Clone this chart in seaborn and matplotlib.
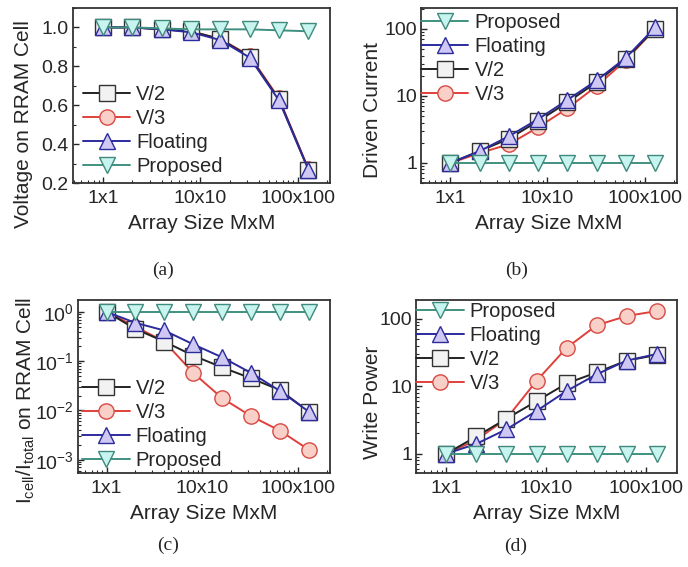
import numpy as np
import pandas as pd
import seaborn as sns
import matplotlib
matplotlib.use("Agg")
import matplotlib.pyplot as plt
from matplotlib.ticker import FixedLocator, FixedFormatter, LogLocator, NullFormatter, MultipleLocator

# ---------------- data ----------------
M = [1, 2, 4, 8, 16, 32, 64, 128]
xtick_vals = [1, 10, 100]
xtick_labels = ["1x1", "10x10", "100x100"]

# (a) Voltage on RRAM cell
a_v2 = [1.0, 1.0, 0.99, 0.98, 0.94, 0.85, 0.63, 0.27]
a_v3 = [1.0, 1.0, 0.99, 0.98, 0.94, 0.855, 0.635, 0.275]
a_fl = [1.0, 1.0, 0.99, 0.975, 0.935, 0.845, 0.625, 0.27]
a_pr = [1.0, 1.0, 0.995, 0.99, 0.99, 0.99, 0.985, 0.98]

# (b) Driven current
b_v2 = [1.0, 1.5, 2.3, 4.2, 8.0, 16.0, 36.0, 100.0]
b_v3 = [1.0, 1.4, 1.9, 3.4, 6.5, 14.0, 34.0, 100.0]
b_fl = [1.0, 1.5, 2.5, 4.5, 8.7, 17.0, 37.0, 105.0]
b_pr = [1.0, 1.0, 1.0, 1.0, 1.0, 1.0, 1.0, 1.0]

# (c) Icell/Itotal
c_v2 = [1.0, 0.45, 0.25, 0.13, 0.075, 0.045, 0.026, 0.0095]
c_v3 = [1.0, 0.5, 0.25, 0.058, 0.0178, 0.0077, 0.0039, 0.0016]
c_fl = [1.0, 0.6, 0.42, 0.22, 0.12, 0.058, 0.025, 0.0095]
c_pr = [1.0, 1.0, 1.0, 1.0, 1.0, 1.0, 1.0, 1.0]

# (d) Write power
d_v2 = [1.0, 1.8, 3.3, 6.0, 11.0, 16.0, 24.0, 29.0]
d_v3 = [1.0, 1.6, 3.3, 12.0, 37.0, 80.0, 110.0, 130.0]
d_fl = [1.0, 1.4, 2.3, 4.3, 8.5, 15.0, 24.0, 30.0]
d_pr = [1.0, 1.0, 1.0, 1.0, 1.0, 1.0, 1.0, 1.0]

labels = ["V/2", "V/3", "Floating", "Proposed"]
ylabels = ["Voltage on RRAM Cell", "Driven Current",
           r"$\mathregular{I_{cell}/I_{total}}$ on RRAM Cell", "Write Power"]
captions = ["(a)", "(b)", "(c)", "(d)"]

# ---------------- style ----------------
sns.set_style("ticks")
plt.rcParams["font.family"] = ["Liberation Sans", "DejaVu Sans"]
plt.rcParams["mathtext.fontset"] = "custom"
plt.rcParams["mathtext.rm"] = "Liberation Sans"
plt.rcParams["mathtext.it"] = "Liberation Sans"

styles = {
    "V/2": dict(color="#222222", marker="s", mfc="#f2f2f2", mec="#333333"),
    "V/3": dict(color="#e0403a", marker="o", mfc="#f8d0c8", mec="#d84a44"),
    "Floating": dict(color="#2b2b9c", marker="^", mfc="#d0c8f4", mec="#2b2b9c"),
    "Proposed": dict(color="#3f9080", marker="v", mfc="#c8f4f0", mec="#3f8a7c"),
}

fig = plt.figure(figsize=(6.88, 5.67), dpi=100)
pos = [
    [0.106, 0.677, 0.374, 0.309],
    [0.612, 0.677, 0.372, 0.309],
    [0.113, 0.166, 0.367, 0.305],
    [0.605, 0.166, 0.379, 0.305],
]
cap_xy = [(163 / 688, 1 - 270 / 567), (517 / 688, 1 - 270 / 567),
          (168 / 688, 1 - 545 / 567), (516 / 688, 1 - 546 / 567)]
ylab_xy = [(-0.156, 0.337), (-0.152, 0.417), (-0.163, 0.416), (-0.13, 0.41)]

panels = [
    dict(data={"V/2": a_v2, "V/3": a_v3, "Floating": a_fl, "Proposed": a_pr},
         ylog=False, ylim=(0.2, 1.1), xlim=(0.49, 215),
         legend=["V/2", "V/3", "Floating", "Proposed"], loc="lower left",
         anchor=(-0.008, -0.03)),
    dict(data={"V/2": b_v2, "V/3": b_v3, "Floating": b_fl, "Proposed": b_pr},
         ylog=True, ylim=(0.5, 205), xlim=(0.5, 215),
         legend=["Proposed", "Floating", "V/2", "V/3"], loc="upper left",
         anchor=(-0.047, 1.04)),
    dict(data={"V/2": c_v2, "V/3": c_v3, "Floating": c_fl, "Proposed": c_pr},
         ylog=True, ylim=(5.4e-4, 1.75), xlim=(0.5, 215),
         legend=["V/2", "V/3", "Floating", "Proposed"], loc="lower left",
         anchor=(-0.03, -0.052)),
    dict(data={"V/2": d_v2, "V/3": d_v3, "Floating": d_fl, "Proposed": d_pr},
         ylog=True, ylim=(0.52, 190), xlim=(0.5, 204),
         legend=["Proposed", "Floating", "V/2", "V/3"], loc="upper left",
         anchor=(-0.046, 1.058)),
]

fs_tick = 14
fs_lab = 15
fs_leg = 14.5
for i, (p, rect) in enumerate(zip(panels, pos)):
    ax = fig.add_axes(rect)
    for name in ["V/3", "V/2", "Floating", "Proposed"]:
        st = styles[name]
        df = pd.DataFrame({"M": M, "v": p["data"][name]})
        sns.lineplot(data=df, x="M", y="v", ax=ax, color=st["color"],
                     marker=st["marker"], markersize=11, markerfacecolor=st["mfc"],
                     markeredgecolor=st["mec"], markeredgewidth=1.0, linewidth=1.4,
                     label=name)
    ax.set_xscale("log")
    if p["ylog"]:
        ax.set_yscale("log")
    ax.set_xlim(*p["xlim"])
    ax.set_ylim(*p["ylim"])
    ax.xaxis.set_major_locator(FixedLocator(xtick_vals))
    ax.xaxis.set_major_formatter(FixedFormatter(xtick_labels))
    ax.xaxis.set_minor_locator(LogLocator(base=10, subs=np.arange(2, 10)))
    ax.xaxis.set_minor_formatter(NullFormatter())
    if i == 0:
        ax.yaxis.set_major_locator(FixedLocator([0.2, 0.4, 0.6, 0.8, 1.0]))
        ax.yaxis.set_major_formatter(FixedFormatter(["0.2", "0.4", "0.6", "0.8", "1.0"]))
        ax.yaxis.set_minor_locator(MultipleLocator(0.1))
    elif i == 2:
        ax.yaxis.set_major_locator(FixedLocator([1e-3, 1e-2, 1e-1, 1]))
        ax.yaxis.set_major_formatter(FixedFormatter(
            [r"$\mathregular{10^{-3}}$", r"$\mathregular{10^{-2}}$",
             r"$\mathregular{10^{-1}}$", r"$\mathregular{10^{0}}$"]))
        ax.yaxis.set_minor_locator(LogLocator(base=10, subs=np.arange(2, 10)))
        ax.yaxis.set_minor_formatter(NullFormatter())
    else:
        ax.yaxis.set_major_locator(FixedLocator([1, 10, 100]))
        ax.yaxis.set_major_formatter(FixedFormatter(["1", "10", "100"]))
        ax.yaxis.set_minor_locator(LogLocator(base=10, subs=np.arange(2, 10)))
        ax.yaxis.set_minor_formatter(NullFormatter())
    ax.tick_params(axis="both", which="major", direction="in", length=4, width=1.0,
                   labelsize=fs_tick, pad=3)
    ax.tick_params(axis="x", which="major", pad=5)
    ax.tick_params(axis="both", which="minor", direction="in", length=2, width=0.8)
    for s in ax.spines.values():
        s.set_linewidth(1.3)
        s.set_color("#333333")
    ax.set_xlabel("Array Size MxM", fontsize=fs_lab, labelpad=5)
    ax.set_ylabel(ylabels[i], fontsize=fs_lab)
    ax.yaxis.set_label_coords(*ylab_xy[i])

    h, l = ax.get_legend_handles_labels()
    hd = dict(zip(l, h))
    ax.legend([hd[k] for k in p["legend"]], p["legend"], loc=p["loc"],
              bbox_to_anchor=p["anchor"], frameon=False, fontsize=fs_leg,
              handlelength=2.35, handletextpad=0.3, labelspacing=0.25,
              borderaxespad=0.2)

    fig.text(cap_xy[i][0], cap_xy[i][1], captions[i], ha="center", va="center",
             fontsize=14, family=["Liberation Serif", "DejaVu Serif"])

fig.savefig("out.png", dpi=100)
